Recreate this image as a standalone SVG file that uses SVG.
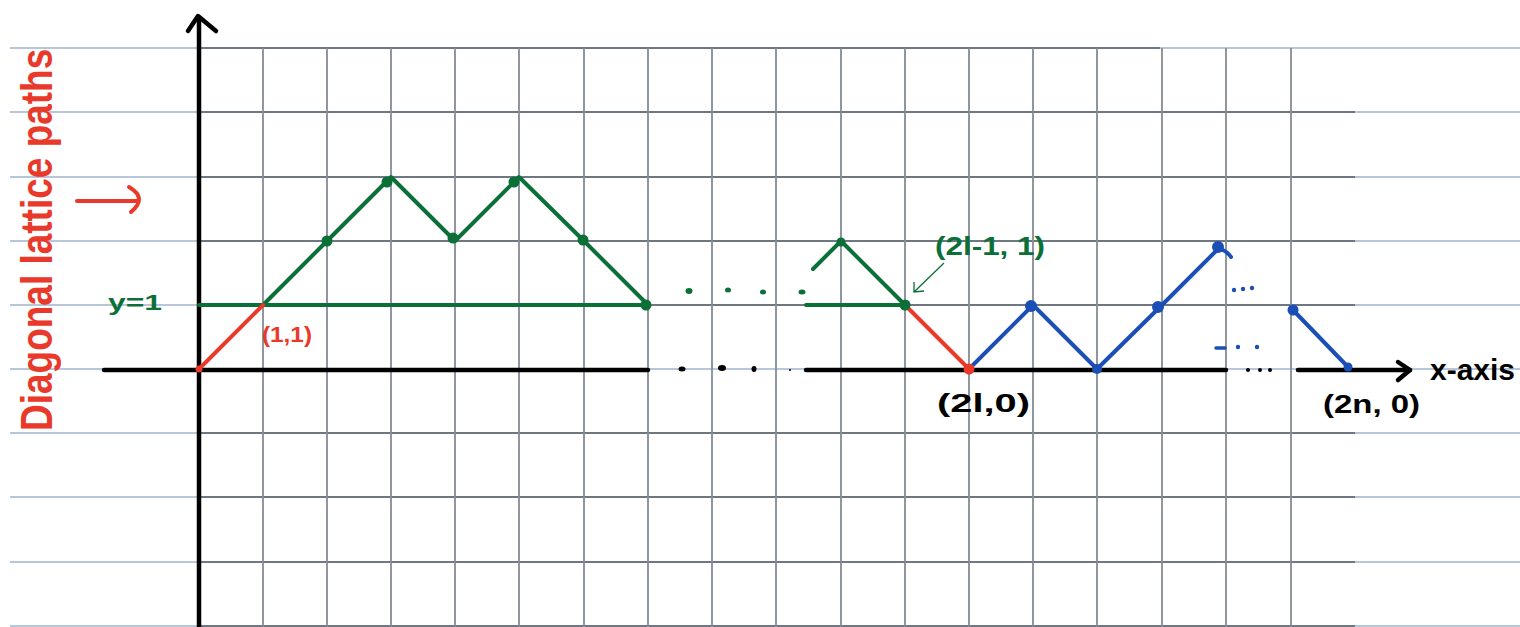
<svg xmlns="http://www.w3.org/2000/svg" width="1520" height="627" viewBox="0 0 1520 627">
<style>
.rule{stroke:#b7c6da;stroke-width:2;fill:none}
.gh{stroke:#6f7882;stroke-width:1.8;fill:none}
.gv{stroke:#858c93;stroke-width:1.8;fill:none}
.ax{stroke:#000;stroke-width:4.5;fill:none;stroke-linecap:round;stroke-linejoin:round}
.grn{stroke:#0a7038;stroke-width:4;fill:none;stroke-linecap:round;stroke-linejoin:round}
.red{stroke:#e8392a;stroke-width:4;fill:none;stroke-linecap:round;stroke-linejoin:round}
.blu{stroke:#1b4fb5;stroke-width:4;fill:none;stroke-linecap:round;stroke-linejoin:round}
.t{font-family:"Liberation Sans",Arial,sans-serif;font-weight:bold}
</style>
<rect width="1520" height="627" fill="#fff"/>
<g id="grid">
<path class="rule" d="M10,48H1520M10,112H1520M10,177H1520M10,241H1520M10,305H1520M10,369H1520M10,433H1520M10,497H1520M10,562H1520M10,626H1520"/>
<path class="gh" d="M199,48H1160M199,112H1355M199,177H1355M199,241H1355M199,305H1355M199,433H1355M199,497H1355M199,562H1355M199,626H1355"/>
<path class="gv" d="M263,48V627M327,48V627M391,48V627M455,48V627M519,48V627M584,48V627M648,48V627M712,48V627M776,48V627M841,48V627M905,48V627M969,48V627M1033,48V627M1097,48V627M1162,48V627M1226,48V627M1291,48V627"/>
</g>
<g id="axes">
<path class="ax" d="M199,18V627"/>
<path class="ax" d="M188,31L198,16L216,31"/>
<path class="ax" d="M104,370H648M806,370H1226M1298,370H1410"/>
<path class="ax" d="M1398,362L1410,370L1398,380"/>
<g fill="#000"><ellipse cx="682" cy="369" rx="3.5" ry="2.5"/><ellipse cx="722" cy="368" rx="4" ry="3"/><ellipse cx="754" cy="369" rx="2.5" ry="3"/><circle cx="790" cy="370" r="1"/><circle cx="1248" cy="370" r="2"/><circle cx="1260" cy="370" r="2"/><circle cx="1270" cy="370" r="2"/></g>
</g>
<g id="connectors">
<path class="grn" d="M199,305H648M806,305H905"/>
<path class="grn" d="M263,305L327,241L391,177L455,241L519,177L584,241L648,305"/>
<path class="grn" d="M813,269L841,241L905,305"/>
<path class="red" d="M199,369L263,305"/>
<path class="red" d="M905,305L969,369"/>
<path class="blu" d="M969,369L1033,305L1097,369L1162,305L1219,248"/>
<path class="blu" stroke-width="3" d="M1219,248Q1228,252 1231,257"/>
<path class="blu" d="M1293,310L1348,367"/>
<path stroke="#0a7038" stroke-width="1.3" fill="none" d="M944,263L914,292M914,282L914,292L924,291"/>
<path class="red" d="M77,201H137M129,187Q148,198 131,212"/>
</g>
<g id="dots-green" fill="#0a7038">
<circle cx="327" cy="241" r="5.5"/><circle cx="387" cy="182" r="5.5"/><circle cx="453" cy="238" r="5.5"/><circle cx="514" cy="182" r="5.5"/><circle cx="583" cy="240" r="5.5"/><circle cx="646" cy="305" r="5.5"/>
<circle cx="841" cy="242" r="4.5"/><circle cx="905" cy="305" r="5.5"/>
<ellipse cx="689" cy="291" rx="3.5" ry="3"/><ellipse cx="728" cy="290" rx="3" ry="2.5"/><ellipse cx="763" cy="292" rx="3" ry="2.5"/><ellipse cx="802" cy="292" rx="3.5" ry="2.5"/>
</g>
<g id="dots-red" fill="#e8392a"><circle cx="199" cy="369" r="3.5"/><circle cx="969" cy="369" r="5.5"/></g>
<g id="dots-blue" fill="#1b4fb5">
<circle cx="1031" cy="306" r="6"/><circle cx="1097" cy="369" r="5"/><circle cx="1158" cy="307" r="6"/><circle cx="1218" cy="247" r="6"/><circle cx="1293" cy="310" r="5.5"/><circle cx="1348" cy="367" r="4.5"/>
<circle cx="1234" cy="290" r="2.2"/><circle cx="1243" cy="289" r="2.2"/><circle cx="1252" cy="288" r="2.2"/>
<path d="M1216,348H1225" stroke="#1b4fb5" stroke-width="3.5" stroke-linecap="round"/><circle cx="1238" cy="347" r="2.2"/><circle cx="1257" cy="347" r="2.2"/>
</g>
<g id="labels">
<text class="t" transform="translate(52,431) rotate(-90) scale(1,1.18)" font-size="37" fill="#e8392a">Diagonal lattice paths</text>
<text class="t" x="108" y="310" font-size="22" fill="#0a7038" textLength="54" lengthAdjust="spacingAndGlyphs">y=1</text>
<text class="t" x="262" y="342" font-size="22" fill="#e8392a" textLength="50" lengthAdjust="spacingAndGlyphs">(1,1)</text>
<text class="t" x="935" y="255" font-size="26" fill="#0a7038" textLength="110" lengthAdjust="spacingAndGlyphs">(2l-1, 1)</text>
<text class="t" x="937" y="412" font-size="26" fill="#000" textLength="93" lengthAdjust="spacingAndGlyphs">(2l,0)</text>
<text class="t" x="1323" y="413" font-size="26" fill="#000" textLength="97" lengthAdjust="spacingAndGlyphs">(2n, 0)</text>
<text class="t" x="1430" y="380" font-size="30" fill="#000" textLength="85" lengthAdjust="spacingAndGlyphs">x-axis</text>
</g>
</svg>
